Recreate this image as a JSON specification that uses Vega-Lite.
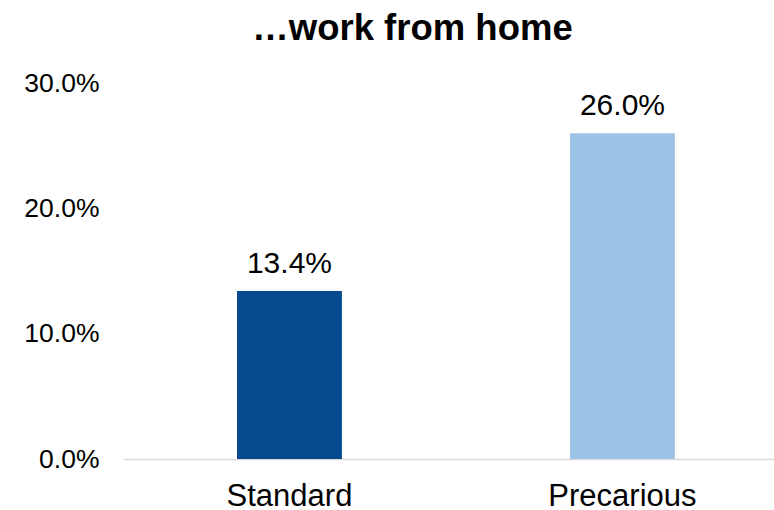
{
  "$schema": "https://vega.github.io/schema/vega-lite/v6.json",
  "width": 651,
  "height": 376,
  "autosize": "none",
  "padding": {"left": 123, "top": 83, "right": 0, "bottom": 51},
  "background": "white",
  "config": {
    "font": "Liberation Sans",
    "view": {"stroke": null}
  },
  "title": {
    "text": "…work from home",
    "fontSize": 36.5,
    "font": "Liberation Sans",
    "fontWeight": "bold",
    "color": "#000000",
    "anchor": "middle",
    "baseline": "alphabetic",
    "offset": 0,
    "dx": -36,
    "dy": 6
  },
  "data": {
    "values": [
      {"category": "Standard", "value": 0.134},
      {"category": "Precarious", "value": 0.26}
    ]
  },
  "encoding": {
    "x": {
      "field": "category",
      "type": "nominal",
      "sort": null,
      "scale": {"paddingInner": 0.685, "paddingOuter": 0.32, "align": 0.535},
      "axis": {
        "title": null,
        "labelAngle": 0,
        "labelFontSize": 31,
        "labelColor": "#000000",
        "labelBaseline": "alphabetic",
        "labelPadding": 46,
        "ticks": false,
        "domainColor": "#D9D9D9",
        "domainWidth": 1.5,
        "grid": false
      }
    },
    "y": {
      "field": "value",
      "type": "quantitative",
      "scale": {"domain": [0, 0.3]},
      "axis": {
        "title": null,
        "format": ".1%",
        "values": [0, 0.1, 0.2, 0.3],
        "grid": false,
        "domain": false,
        "ticks": false,
        "labelFontSize": 26.5,
        "labelColor": "#000000",
        "labelPadding": 24
      }
    }
  },
  "layer": [
    {
      "mark": {"type": "bar"},
      "encoding": {
        "color": {
          "field": "category",
          "type": "nominal",
          "scale": {"domain": ["Standard", "Precarious"], "range": ["#054A8E", "#9DC3E6"]},
          "legend": null
        }
      }
    },
    {
      "mark": {"type": "text", "baseline": "alphabetic", "dy": -18, "fontSize": 30, "color": "#000000"},
      "encoding": {
        "text": {"field": "value", "type": "quantitative", "format": ".1%"}
      }
    }
  ]
}
